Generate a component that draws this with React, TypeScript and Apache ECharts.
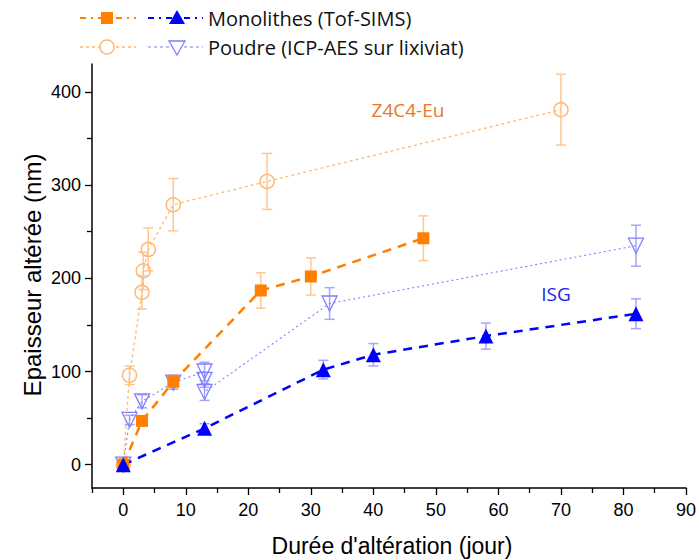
import React, { useEffect, useRef } from "react";
import * as echarts from "echarts";

// Monolithes (Tof-SIMS) - Z4C4-Eu
const monoZX = [0, 3, 8, 22, 30, 48];
const monoZY = [0, 47, 89, 187, 202, 243];
const monoZErr = [0, 4, 7, 19, 20, 24];

// Monolithes (Tof-SIMS) - ISG
const monoIX = [0, 13, 32, 40, 58, 82];
const monoIY = [0, 39, 102, 118, 138, 162];
const monoIErr = [0, 5, 10, 12, 14, 16];

// Poudre (ICP-AES sur lixiviat) - Z4C4-Eu
const poudZX = [0, 1, 3, 3.2, 4, 8, 23, 70];
const poudZY = [0, 96, 185, 208, 231, 279, 304, 381];
const poudZErr = [0, 10, 18, 20, 23, 28, 30, 38];

// Poudre (ICP-AES sur lixiviat) - ISG
const poudIX = [0, 1, 3, 8, 13, 13, 13, 33, 82];
const poudIY = [0, 48, 68, 88, 100, 91, 78, 173, 235];
const poudIErr = [0, 5, 7, 7, 10, 8, 9, 17, 22];

const xLabels = [0, 10, 20, 30, 40, 50, 60, 70, 80, 90];
const xMinor = [-5, 5, 15, 25, 35, 45, 55, 65, 75, 85];
const yLabels = [0, 100, 200, 300, 400];
const yMinor = [50, 150, 250, 350];

const C_ORANGE = "#FF8000";
const C_ORANGE_L = "#FFB871";
const C_ORANGE_E = "#FFC892";
const C_BLUE = "#0000FF";
const C_BLUE_L = "#7F7FFF";
const C_BLUE_E = "#A6A6FF";

const SANS = "Liberation Sans";
const LEG = "Open Sans";

const zip = (xs: number[], ys: number[]) => xs.map((x, i) => [x, ys[i]]);

function errorSeries(xs: number[], ys: number[], errs: number[], color: string) {
  return {
    type: "custom",
    silent: true,
    z: 1,
    encode: { x: 0, y: 1 },
    data: xs.map((x, i) => [x, ys[i], errs[i]]),
    renderItem: (_p: any, api: any) => {
      const x = api.value(0);
      const y = api.value(1);
      const e = api.value(2);
      if (!e) return { type: "group", children: [] };
      const hi = api.coord([x, y + e]);
      const lo = api.coord([x, y - e]);
      const w = 5;
      const st = { stroke: color, lineWidth: 1.5 };
      return {
        type: "group",
        children: [
          { type: "line", shape: { x1: hi[0], y1: hi[1], x2: lo[0], y2: lo[1] }, style: st },
          { type: "line", shape: { x1: hi[0] - w, y1: hi[1], x2: hi[0] + w, y2: hi[1] }, style: st },
          { type: "line", shape: { x1: lo[0] - w, y1: lo[1], x2: lo[0] + w, y2: lo[1] }, style: st },
        ],
      };
    },
  };
}

export default function App() {
  const ref = useRef<HTMLDivElement>(null);
  useEffect(() => {
    if (!ref.current) return;
    const chart = echarts.init(ref.current, undefined, { renderer: "svg" });
    const tickFont = { color: "#000", fontFamily: SANS, fontSize: 18 };
    const legendY1 = 18;
    const legendY2 = 47;
    chart.setOption({
      animation: false,
      backgroundColor: "#fff",
      grid: { left: 92, right: 12, top: 64, bottom: 72, containLabel: false },
      xAxis: [
        {
          type: "value",
          min: -5,
          max: 90,
          splitLine: { show: false },
          axisLine: { show: true, onZero: false, lineStyle: { color: "#000", width: 1.5 } },
          axisTick: { show: true, length: 7, customValues: xLabels, lineStyle: { color: "#000", width: 1.3 } },
          axisLabel: { ...tickFont, margin: 13, customValues: xLabels },
        },
        {
          type: "value",
          min: -5,
          max: 90,
          position: "bottom",
          splitLine: { show: false },
          axisLine: { show: false, onZero: false },
          axisTick: { show: true, length: 5, customValues: xMinor, lineStyle: { color: "#000", width: 1.3 } },
          axisLabel: { show: false },
        },
      ],
      yAxis: [
        {
          type: "value",
          min: -25,
          max: 430,
          splitLine: { show: false },
          axisLine: { show: true, onZero: false, lineStyle: { color: "#000", width: 1.5 } },
          axisTick: { show: true, length: 7, customValues: yLabels, lineStyle: { color: "#000", width: 1.3 } },
          axisLabel: { ...tickFont, margin: 11, customValues: yLabels },
        },
        {
          type: "value",
          min: -25,
          max: 430,
          position: "left",
          splitLine: { show: false },
          axisLine: { show: false, onZero: false },
          axisTick: { show: true, length: 5, customValues: yMinor, lineStyle: { color: "#000", width: 1.3 } },
          axisLabel: { show: false },
        },
      ],
      series: [
        errorSeries(poudZX, poudZY, poudZErr, C_ORANGE_E),
        errorSeries(poudIX, poudIY, poudIErr, C_BLUE_E),
        errorSeries(monoZX, monoZY, monoZErr, C_ORANGE_E),
        errorSeries(monoIX, monoIY, monoIErr, C_BLUE_E),
        {
          type: "line",
          name: "Poudre Z4C4-Eu",
          data: zip(poudZX, poudZY),
          symbol: "circle",
          symbolSize: 14,
          lineStyle: { color: C_ORANGE_L, width: 1.3, type: [3, 3] },
          itemStyle: { color: "rgba(255,255,255,0)", borderColor: C_ORANGE_L, borderWidth: 1.5 },
          z: 2,
        },
        {
          type: "line",
          name: "Poudre ISG",
          data: zip(poudIX, poudIY),
          symbol: "triangle",
          symbolRotate: 180,
          symbolSize: 15,
          lineStyle: { color: C_BLUE_L, width: 1.1, type: [2, 3] },
          itemStyle: { color: "rgba(255,255,255,0)", borderColor: C_BLUE_L, borderWidth: 1.3 },
          z: 2,
        },
        {
          type: "line",
          name: "Monolithes Z4C4-Eu",
          data: zip(monoZX, monoZY),
          symbol: "rect",
          symbolSize: 12,
          lineStyle: { color: C_ORANGE, width: 2.5, type: [9, 7] },
          itemStyle: { color: C_ORANGE },
          z: 3,
        },
        {
          type: "line",
          name: "Monolithes ISG",
          data: zip(monoIX, monoIY),
          symbol: "triangle",
          symbolSize: 15,
          lineStyle: { color: C_BLUE, width: 2.5, type: [9, 7] },
          itemStyle: { color: C_BLUE },
          z: 3,
        },
      ],
      graphic: [
        // Legend
        { type: "line", shape: { x1: 80, y1: legendY1, x2: 136, y2: legendY1 }, style: { stroke: C_ORANGE, lineWidth: 2, lineDash: [6, 5, 2, 5] } },
        { type: "rect", shape: { x: 101, y: legendY1 - 6, width: 12, height: 12 }, style: { fill: C_ORANGE } },
        { type: "line", shape: { x1: 148, y1: legendY1, x2: 203, y2: legendY1 }, style: { stroke: C_BLUE, lineWidth: 2, lineDash: [6, 5, 2, 5] } },
        { type: "polygon", shape: { points: [[177, legendY1 - 8], [169, legendY1 + 6], [185, legendY1 + 6]] }, style: { fill: C_BLUE } },
        { type: "text", x: 208, y: legendY1, style: { text: "Monolithes (Tof-SIMS)", fill: "#111", fontFamily: LEG, fontSize: 20, textVerticalAlign: "middle" } },
        { type: "line", shape: { x1: 80, y1: legendY2, x2: 136, y2: legendY2 }, style: { stroke: C_ORANGE_L, lineWidth: 1.3, lineDash: [3, 3] } },
        { type: "circle", shape: { cx: 107, cy: legendY2, r: 7 }, style: { fill: "#fff", stroke: C_ORANGE_L, lineWidth: 1.5 } },
        { type: "line", shape: { x1: 148, y1: legendY2, x2: 203, y2: legendY2 }, style: { stroke: C_BLUE_L, lineWidth: 1.2, lineDash: [3, 3] } },
        { type: "polygon", shape: { points: [[169, legendY2 - 6], [185, legendY2 - 6], [177, legendY2 + 8]] }, style: { fill: "#fff", stroke: C_BLUE_L, lineWidth: 1.3 } },
        { type: "text", x: 208, y: legendY2, style: { text: "Poudre (ICP-AES sur lixiviat)", fill: "#111", fontFamily: LEG, fontSize: 20, textVerticalAlign: "middle" } },
        // Annotations
        { type: "text", x: 408, y: 110, style: { text: "Z4C4-Eu", fill: "#E8782A", fontFamily: LEG, fontSize: 19, textAlign: "center", textVerticalAlign: "middle" } },
        { type: "text", x: 556, y: 294, style: { text: "ISG", fill: "#1E1EE6", fontFamily: LEG, fontSize: 19, textAlign: "center", textVerticalAlign: "middle" } },
        // Axis titles
        { type: "text", x: 392, y: 546, style: { text: "Durée d'altération (jour)", fill: "#000", fontFamily: SANS, fontSize: 23, textAlign: "center", textVerticalAlign: "middle" } },
        { type: "text", x: 32, y: 275, rotation: Math.PI / 2, style: { text: "Epaisseur altérée (nm)", fill: "#000", fontFamily: SANS, fontSize: 24, textAlign: "center", textVerticalAlign: "middle" } },
      ],
    });
    return () => chart.dispose();
  }, []);
  return <div ref={ref} style={{ position: "fixed", left: 0, top: 0, width: 699, height: 560 }} />;
}
